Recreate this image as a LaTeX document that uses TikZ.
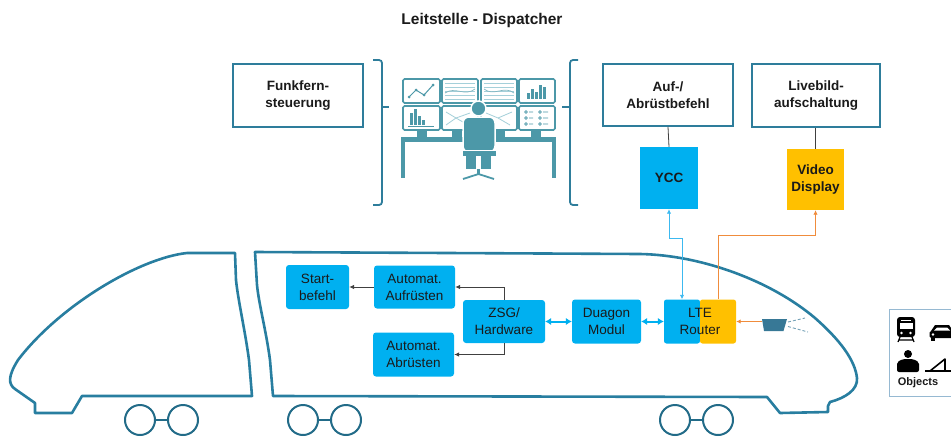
\documentclass[tikz,border=0pt]{standalone}
\usepackage{fontspec}
\setmainfont{Liberation Sans}
\usetikzlibrary{arrows.meta}
\definecolor{boxteal}{RGB}{46,125,155}
\definecolor{trainteal}{RGB}{40,126,160}
\definecolor{icon}{RGB}{76,152,168}
\definecolor{iconlight}{RGB}{165,208,218}
\definecolor{skyblue}{RGB}{0,176,240}
\definecolor{amber}{RGB}{255,192,0}
\definecolor{linkblue}{RGB}{60,185,240}
\definecolor{linkorange}{RGB}{240,140,60}
\definecolor{camblue}{RGB}{55,120,150}
\definecolor{objframe}{RGB}{150,185,210}
\definecolor{ink}{RGB}{26,26,26}
\begin{document}
\begin{tikzpicture}[x=1pt,y=-1pt,
  topbox/.style={draw=boxteal, line width=1.5pt, fill=white, align=center, inner sep=0pt,
    text=ink, font=\bfseries\fontsize{13.5}{17}\selectfont},
  bluebox/.style={fill=skyblue, rounded corners=3pt, align=center, inner sep=0pt,
    text=ink, font=\fontsize{13.5}{17}\selectfont},
  blk/.style={draw=black!75, line width=0.8pt, -{Latex[length=5pt,width=4.5pt]}},
  thinlink/.style={draw=black!75, line width=0.8pt},
  bdbl/.style={draw=skyblue, line width=2pt, {Latex[length=6pt,width=7.5pt]}-{Latex[length=6pt,width=7.5pt]}},
  ycclink/.style={draw=linkblue, line width=0.9pt, {Latex[length=4.5pt,width=4.5pt]}-{Latex[length=4.5pt,width=4.5pt]}},
  orlink/.style={draw=linkorange, line width=0.9pt, -{Latex[length=4.5pt,width=4.5pt]}},
  brace/.style={draw=boxteal, line width=1.8pt, rounded corners=3pt},
  trainline/.style={draw=trainteal, line width=2.6pt, line join=round},
  wheel/.style={draw=trainteal!85!black, line width=2pt},
  screen/.style={draw=icon, line width=1.6pt, rounded corners=1.5pt, fill=white}
]
\useasboundingbox (0,0) rectangle (951,437);
\clip (0,0) rectangle (951,437);

% heading
\node[font=\bfseries\fontsize{15.5}{18}\selectfont, text=ink] (title) at (482,20) {Leitstelle - Dispatcher};

% dispatcher workstation: brackets
\draw[brace] (373,60) -| (382,205) -- (373,205);
\draw[brace] (382,107) -- (389,107);
\draw[brace] (578,60) -| (570,205) -- (578,205);
\draw[brace] (570,107) -- (562,107);

% workstation monitors
\foreach \xa/\xb in {403/440,442/478,481/517,519/555} {
  \draw[screen] (\xa,79) rectangle (\xb,103);
  \draw[screen] (\xa,106) rectangle (\xb,130);
}
% line chart
\draw[icon, line width=1pt] (409,97) -- (416,90) -- (424,95) -- (433,85);
\foreach \p in {(409,97),(416,90),(424,95),(433,85)} \fill[icon] \p circle (1.5);
% striped screens
\foreach \yy in {83,87,91,95,99} {
  \draw[iconlight, line width=0.8pt] (445,\yy) -- (475,\yy);
  \draw[iconlight, line width=0.8pt] (484,\yy) -- (514,\yy);
}
\draw[icon!70, line width=0.7pt] (445,93) .. controls (455,86) and (465,97) .. (475,89);
\draw[icon!70, line width=0.7pt] (484,89) .. controls (494,97) and (504,85) .. (514,93);
% bar charts
\foreach \bx/\bh in {527/6,531/10,535/7,539/14,543/12} \fill[icon] (\bx,99) rectangle ++(3,-\bh);
\foreach \bx/\bh in {410/12,414/16,418/9,422/5} \fill[icon] (\bx,125) rectangle ++(3,-\bh);
\draw[icon, line width=0.8pt] (408,126) -- (434,126);
% network screens
\draw[iconlight, line width=0.8pt] (446,112) -- (456,118) -- (446,125) (456,118) -- (470,113) (456,118) -- (468,125);
\draw[iconlight, line width=0.8pt] (486,113) -- (498,118) -- (512,112) (498,118) -- (510,125);
% list screen
\foreach \yy in {112,118,124} {
  \draw[icon, line width=0.7pt] (526,\yy) circle (1.3) (529,\yy) -- (533,\yy);
  \draw[icon, line width=0.7pt] (540,\yy) circle (1.3) (543,\yy) -- (548,\yy);
}
% stands and desk
\foreach \sx in {422,457,500,536} \fill[icon] (\sx-5,130) rectangle (\sx+5,136.5);
\fill[icon] (401,136.5) rectangle (556,141.5);
\fill[icon] (401,141) rectangle (405,178);
\fill[icon] (552,141) rectangle (556,178);
% operator
\draw[white, line width=1.5pt, fill=icon] (478.5,108.5) circle (7.5);
\draw[white, line width=1.5pt, fill=icon, rounded corners=6pt] (463,117) rectangle (495,152);
\draw[white, line width=1pt, fill=icon] (462,150) rectangle (496,156);
\fill[icon] (466,156) rectangle (476,169);
\fill[icon] (481,156) rectangle (491,169);
\fill[icon] (477,169) rectangle (480,175);
\draw[icon, line width=1.8pt] (463,179) -- (478.5,174) -- (494,179);

% dispatcher functions
\node[topbox, minimum width=130pt, minimum height=63pt] (funk) at (298,95.5) {Funkfern-\\steuerung};
\node[topbox, minimum width=130pt, minimum height=62pt] (aufab) at (668,95) {Auf-/\\Abrüstbefehl};
\node[topbox, minimum width=128pt, minimum height=63pt] (live) at (816,95.5) {Livebild-\\aufschaltung};
\node[fill=skyblue, minimum width=58pt, minimum height=62pt, inner sep=0pt, text=ink,
      font=\bfseries\fontsize{13.5}{17}\selectfont] (ycc) at (669,178) {YCC};
\node[fill=amber, minimum width=57pt, minimum height=61pt, inner sep=0pt, align=center, text=ink,
      font=\bfseries\fontsize{13.5}{17}\selectfont] (video) at (815.5,179.5) {Video\\Display};
\draw[thinlink] (aufab.south) -- (ycc.north);
\draw[thinlink] (live.south -| video.north) -- (video.north);

% train body: cab car
\draw[trainline] (235,253) -- (187,253)
  .. controls (140,258) and (60,305) .. (18,360)
  .. controls (8,376) and (8,384) .. (15,389)
  -- (35,403) -- (35,413) -- (72,413) -- (82,396) -- (252,396)
  -- (249,360) .. controls (245,330) and (238,300) .. (236,280) -- cycle;
% train body: main car
\draw[trainline] (255,252) -- (640,254)
  .. controls (700,255) and (770,280) .. (815,318)
  .. controls (840,340) and (855,360) .. (857,378)
  .. controls (858,390) and (845,398) .. (830,402)
  -- (828,406) -- (828,412) -- (780,413) -- (767,397) -- (273,396)
  -- (270,360) .. controls (266,330) and (259,305) .. (257,285) -- cycle;
% bogies
\foreach \wx in {140,303,675} {
  \draw[wheel] (\wx,420) circle (15);
  \draw[wheel] (\wx+43,420) circle (15);
  \draw[wheel] (\wx+15,420) -- (\wx+28,420);
}

% on-board components
\node[bluebox, minimum width=63pt, minimum height=44pt] (start) at (317.5,287) {Start-\\befehl};
\node[bluebox, minimum width=81pt, minimum height=43pt] (aufr) at (414.5,287) {Automat.\\Aufrüsten};
\node[bluebox, minimum width=82pt, minimum height=43pt] (zsg) at (504,321.5) {ZSG/\\Hardware};
\node[bluebox, minimum width=81pt, minimum height=44pt] (abr) at (413.5,354.5) {Automat.\\Abrüsten};
\node[bluebox, minimum width=69pt, minimum height=44pt] (duagon) at (606.5,321.5) {Duagon\\Modul};
\node[fill=skyblue, rounded corners=2.5pt, minimum width=36pt, minimum height=44pt, inner sep=0pt] (lteb) at (682,321.5) {};
\node[fill=amber, rounded corners=2.5pt, minimum width=36pt, minimum height=44pt, inner sep=0pt] (lteo) at (718,321.5) {};
\node[align=center, text=ink, font=\fontsize{13.5}{17}\selectfont, inner sep=0pt] (lte) at (700,321.5) {LTE\\Router};

% camera
\fill[camblue] (762,319) -- (787,319) -- (783.5,331) -- (764,331) -- cycle;
\coordinate (cam) at (762,321.5);
\draw[camblue!70!white, line width=0.9pt, dash pattern=on 3pt off 2pt] (788,322) -- (805,318);
\draw[camblue!70!white, line width=0.9pt, dash pattern=on 3pt off 2pt] (788,326.5) -- (808,332);

% connections
\draw[blk] (aufr.west) -- (start.east);
\draw[blk] (zsg.north) |- (aufr.east);
\draw[blk] (zsg.south) |- (abr.east);
\draw[bdbl] (zsg.east) -- (duagon.west);
\draw[bdbl] (duagon.east) -- (lteb.west);
\draw[ycclink] (ycc.south) -- ++(0,29) -| (lteb.north);
\draw[orlink] (lteo.north) -- ++(0,-64) -| (video.south);
\draw[orlink] (cam) -- (lteo.east);

% object legend
\draw[objframe, line width=1pt, fill=white] (889,309) rectangle (962,396);
% train front
\fill[black, rounded corners=3pt] (897,317) rectangle (915,337);
\fill[white] (901,319.5) rectangle (911,320.5);
\fill[white] (899.5,322.5) rectangle (912.5,329);
\fill[white] (901.5,333) circle (1.3);
\fill[white] (910.5,333) circle (1.3);
\draw[black, line width=1.2pt] (900,337) -- (898,342) (912,337) -- (914,342) (898.5,340) -- (913.5,340);
% car
\fill[black] (935,325) -- (949,325) -- (953,331) -- (931,331) -- cycle;
\fill[white] (937,327.5) -- (947,327.5) -- (950,330.5) -- (934,330.5) -- cycle;
\fill[black, rounded corners=1.5pt] (929.5,331) rectangle (957,338);
\fill[white] (933,334.5) circle (1.3);
\fill[black] (931,338) rectangle (935,341);
% person
\fill[black] (908,354) circle (4);
\fill[black, rounded corners=2pt] (897,372) -- (897,362) -- (903,359) -- (913,359) -- (919,362) -- (919,372) -- cycle;
% level crossing / ramp
\draw[black, line width=1.6pt] (925,371) -- (955,371);
\draw[black, line width=1.6pt, line join=round] (930,371) -- (945,359) -- (945,371);
\node[font=\bfseries\fontsize{11}{13}\selectfont, text=ink] (objlbl) at (918,383) {Objects};
\end{tikzpicture}
\end{document}
